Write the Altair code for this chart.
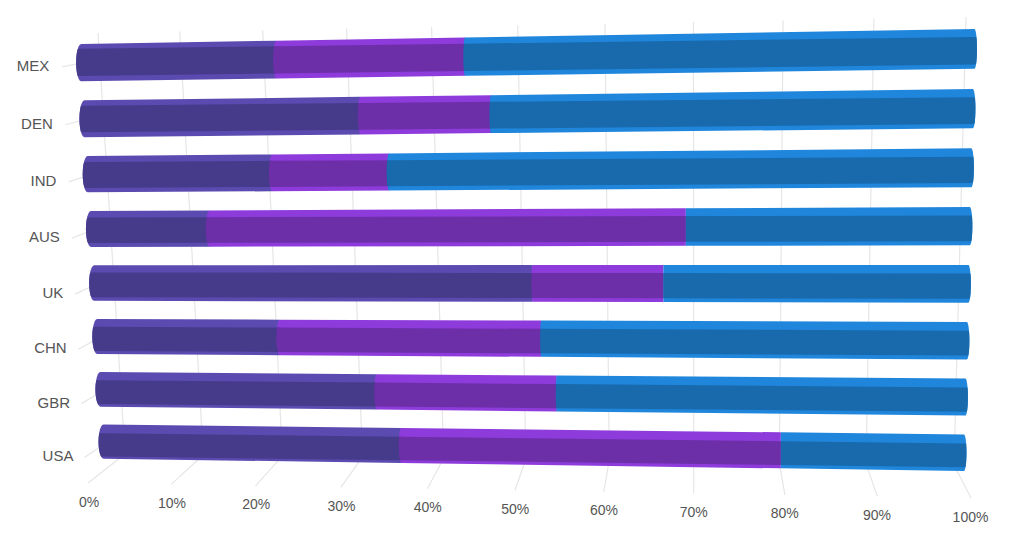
import math
import altair as alt
import pandas as pd

# ---- chart values (percent of each bar) ----
categories = ["MEX", "DEN", "IND", "AUS", "UK", "CHN", "GBR", "USA"]
series_a = [23.0, 32.5, 22.0, 14.3, 51.8, 22.1, 33.4, 36.1]
series_b = [21.6, 14.9, 13.6, 54.8, 14.8, 30.6, 21.0, 43.6]
series_c = [55.4, 52.6, 64.4, 30.9, 33.4, 47.3, 45.6, 20.3]
ticks = [0, 10, 20, 30, 40, 50, 60, 70, 80, 90, 100]
light_colors = ["#5b4bb0", "#8e3bdb", "#1f86dc"]
dark_colors = ["#463b8b", "#6c2fa8", "#196aad"]

# ---- perspective model, mapping (percent, row) to the picture ----
Q_U, Q_V, BAR_H = 1.068, 0.955, 0.66
X_LEFT, X_RIGHT = (75.0, 99.5), (977.5, 966.0)
Y_LEFT, Y_RIGHT = (44.0, 458.7), (29.0, 471.0)


def warp(t, q):
    return t / (t + (1 - t) * q)


def lerp(a, b, t):
    return a + (b - a) * t


def su(pct):
    return warp(pct / 100.0, Q_U)


def fv(v):
    return warp(v / (len(categories) - 1 + BAR_H), Q_V)


def edge_y(s, f):
    return lerp(lerp(Y_LEFT[0], Y_LEFT[1], f), lerp(Y_RIGHT[0], Y_RIGHT[1], f), s)


def center_x(s, f):
    return lerp(lerp(X_LEFT[0], X_LEFT[1], f), lerp(X_RIGHT[0], X_RIGHT[1], f), s)


def bulge(s):
    return -5 + 7.5 * s


def point(s, row, x, sin_t=1.0):
    """Outer and inner vertical extents of the bar at a picture x."""
    ft, fb = fv(row), fv(row + BAR_H)
    fm = (ft + fb) / 2
    top, bot = edge_y(s, ft), edge_y(s, fb)
    mid, half = (top + bot) / 2, (bot - top) / 2
    o_top, o_bot = mid - half * sin_t, mid + half * sin_t
    band_t = lerp(lerp(4.5, 8, s), 9, fm)
    band_b = lerp(lerp(5.5, 4.3, s), lerp(2, 3.7, s), fm)
    i_top, i_bot = max(o_top, top + band_t), min(o_bot, bot - band_b)
    return dict(sx=x, y0=o_top, y1=o_bot, i0=min(i_top, i_bot), i1=max(i_top, i_bot))


CAP = [0, 15, 30, 45, 60, 75, 90]
rows = []
for r, cat in enumerate(categories):
    vals = [series_a[r], series_b[r], series_c[r]]
    fm = (fv(r) + fv(r + BAR_H)) / 2
    start = 0.0
    for k, val in enumerate(vals):
        end = start + val
        s0, s1 = su(start), su(end)
        pts = []
        b0, b1 = bulge(s0), bulge(s1)
        xm0, xm1 = center_x(s0, fm), center_x(s1, fm)
        if b0 < 0:
            for a in CAP:
                th = math.radians(a)
                pts.append(point(s0, r, xm0 - b0 - (-b0) * math.cos(th), math.sin(th)))
        else:
            pts.append(point(s0, r, xm0))
        if k == 2:
            for a in reversed(CAP):
                th = math.radians(a)
                pts.append(point(s1, r, xm1 - b1 + b1 * math.cos(th), math.sin(th)))
        elif b1 < 0:
            pts.append(point(s1, r, xm1 - b1))
        else:
            pts.append(point(s1, r, xm1))
        for p in pts:
            p.update(category=cat, value=val, seg=f"{r}-{k}",
                     light=light_colors[k], dark=dark_colors[k])
            rows.append(p)
        start = end
bars = pd.DataFrame(rows)

grid = []
tick_rows = []
for t in ticks:
    s = su(t)
    tx, ty = lerp(98, 966, s), lerp(33, 17, s)
    fx, fy = lerp(125, 954, s), lerp(454, 465, s)
    ex, ey = lerp(88, 971, s), lerp(483, 498, s)
    grid.append(dict(x=tx, y=ty, x2=fx, y2=fy))
    grid.append(dict(x=fx, y=fy, x2=ex, y2=ey))
    tick_rows.append(dict(x=ex + lerp(1, -0.5, s), y=ey + 19.5, label=f"{t}%"))
cat_rows = []
for r, cat in enumerate(categories):
    ft, fb = fv(r), fv(r + BAR_H)
    fm = (ft + fb) / 2
    xl = center_x(0, fm)
    yc = edge_y(0, fm)
    ye = yc + lerp(1.3, 6.7, fm)
    ys = ye + lerp(2.4, 9.7, fm)
    grid.append(dict(x=xl - 14, y=ys, x2=xl, y2=ye))
    cat_rows.append(dict(x=xl - lerp(27, 25, fm), y=ys - 1, label=cat))
grid = pd.DataFrame(grid)

X_SCALE = alt.Scale(domain=[8, 998], nice=False, zero=False)
Y_SCALE = alt.Scale(domain=[538, 8], nice=False, zero=False)
x_enc = alt.X("x:Q", scale=X_SCALE, axis=None)
y_enc = alt.Y("y:Q", scale=Y_SCALE, axis=None)
xs_enc = alt.X("sx:Q", scale=X_SCALE, axis=None)

grid_layer = alt.Chart(grid).mark_rule(color="#e6e6e6", strokeWidth=1.2).encode(
    x=x_enc, y=y_enc, x2="x2:Q", y2="y2:Q")
outer = alt.Chart(bars).mark_area(opacity=1, interpolate="linear").encode(
    x=xs_enc,
    y=alt.Y("y0:Q", scale=Y_SCALE, axis=None),
    y2="y1:Q",
    color=alt.Color("light:N", scale=None),
    detail="seg:N",
)
inner = alt.Chart(bars).mark_area(opacity=1, interpolate="linear").encode(
    x=xs_enc,
    y=alt.Y("i0:Q", scale=Y_SCALE, axis=None),
    y2="i1:Q",
    color=alt.Color("dark:N", scale=None),
    detail="seg:N",
)
text_style = dict(font="Liberation Sans", color="#555555", baseline="middle")
tick_text = alt.Chart(pd.DataFrame(tick_rows)).mark_text(
    align="center", fontSize=14, **text_style).encode(x=x_enc, y=y_enc, text="label:N")
cat_text = alt.Chart(pd.DataFrame(cat_rows)).mark_text(
    align="right", fontSize=15, **text_style).encode(x=x_enc, y=y_enc, text="label:N")

chart = alt.layer(grid_layer, outer, inner, tick_text, cat_text).properties(
    width=990, height=530, padding=0,
    autosize=alt.AutoSizeParams(type="none"),
).configure_view(stroke=None)

chart.save("out.html", embed_options={"renderer": "svg", "actions": False})
